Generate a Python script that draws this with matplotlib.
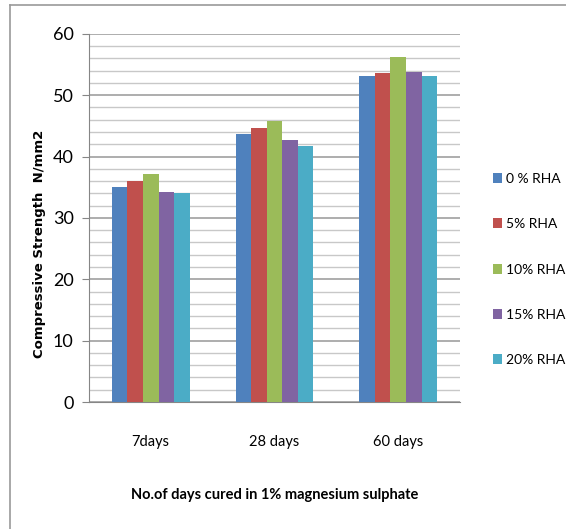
import matplotlib
matplotlib.use('Agg')
import matplotlib.pyplot as plt
import numpy as np
from matplotlib.lines import Line2D

categories = ['7days', '28 days', '60 days']
legend_labels = ['0 % RHA', '5% RHA', '10% RHA', '15% RHA', '20% RHA']
rha0 = [35.1, 43.7, 53.1]
rha5 = [36.0, 44.6, 53.7]
rha10 = [37.2, 45.8, 56.3]
rha15 = [34.3, 42.7, 53.8]
rha20 = [34.1, 41.8, 53.1]
colors = ['#4F81BD', '#C0504D', '#9BBB59', '#8064A2', '#4BACC6']

narrow = ['Lato', 'DejaVu Sans']

fig = plt.figure(figsize=(5.66, 5.29), dpi=100)
ax = fig.add_axes([0.157, 0.240, 0.656, 0.696])

x = np.arange(len(categories))
w = 0.126
vals = [rha0, rha5, rha10, rha15, rha20]
for i, v in enumerate(vals):
    ax.bar(x + (i - 2) * w, v, w, color=colors[i], label=legend_labels[i], zorder=3)

ax.set_xlim(-0.5, 2.5)
ax.set_ylim(0, 60)
ax.set_yticks(np.arange(0, 61, 10))
ax.set_yticks(np.arange(0, 61, 2), minor=True)
ax.grid(axis='y', which='major', color='#a0a0a0', lw=1.2, zorder=0)
ax.grid(axis='y', which='minor', color='#c8c8c8', lw=1.0, zorder=0)
ax.tick_params(axis='y', which='major', length=5, color='#868686', labelsize=13, pad=6)
ax.tick_params(axis='y', which='minor', length=0)
ax.tick_params(axis='x', length=0, labelsize=10.5, pad=24)
ax.set_xticks(x)
ax.set_xticklabels(categories, family=narrow)
for lab in ax.get_yticklabels():
    lab.set_family(narrow)
for s in ['top', 'right']:
    ax.spines[s].set_visible(False)
ax.spines['left'].set_color('#868686')
ax.spines['bottom'].set_color('#868686')

ax.set_ylabel('Compressive Strength  N/mm2', fontsize=9.5, fontweight='bold')
ax.yaxis.set_label_coords(-0.115, 0.43)
ax.set_xlabel('No.of days cured in 1% magnesium sulphate', fontsize=10.5,
              fontweight='bold', family=narrow, labelpad=28)

fig.legend(loc='center left', bbox_to_anchor=(0.858, 0.4905), frameon=False,
           prop={'family': narrow, 'size': 10}, labelspacing=2.4, borderpad=0,
           handlelength=0.7, handleheight=0.7, handletextpad=0.25)

fig.add_artist(Line2D([10/566, 10/566], [0, 1 - 5/529], color='#9a9a9a', lw=1.2))
fig.add_artist(Line2D([10/566, 1], [1 - 5/529, 1 - 5/529], color='#9a9a9a', lw=1.2))

fig.savefig('out.png', dpi=100)
